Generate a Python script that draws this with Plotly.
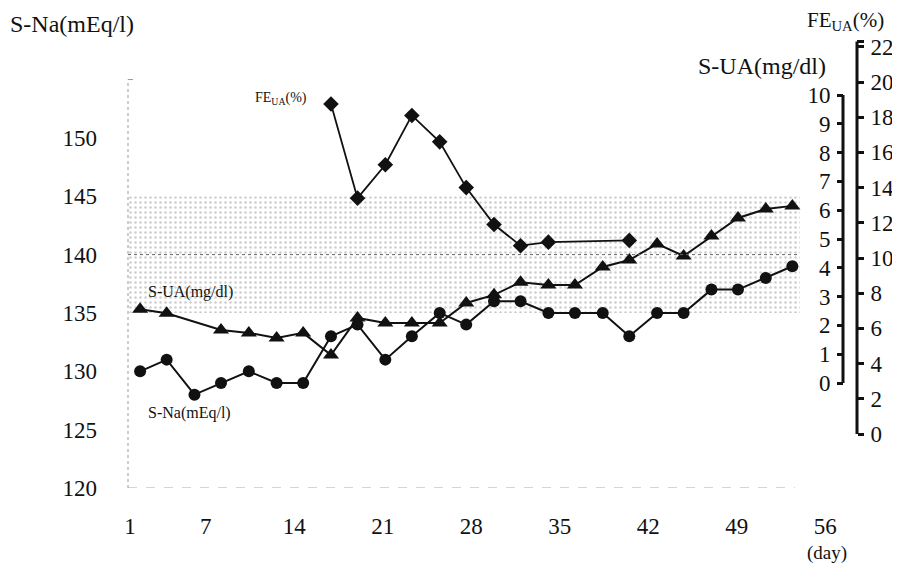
import plotly.graph_objects as go

# ---------------- data ----------------
days = [1.8, 3.9, 6.1, 8.2, 10.4, 12.6, 14.7, 16.9, 19.0, 21.2, 23.3, 25.5, 27.6,
        29.8, 31.9, 34.1, 36.2, 38.4, 40.5, 42.7, 44.8, 47.0, 49.1, 51.3, 53.4]

s_na = [130, 131, 128, 129, 130, 129, 129, 133, 134, 131, 133, 135, 134,
        136, 136, 135, 135, 135, 133, 135, 135, 137, 137, 138, 139]

ua_days = [1.8, 3.9, 8.2, 10.4, 12.6, 14.7, 16.9, 19.0, 21.2, 23.3, 25.5, 27.6,
           29.8, 31.9, 34.1, 36.2, 38.4, 40.5, 42.7, 44.8, 47.0, 49.1, 51.3, 53.4]
s_ua = [2.56, 2.42, 1.84, 1.74, 1.56, 1.74, 0.97, 2.26, 2.08, 2.08, 2.08, 2.78,
        3.06, 3.5, 3.4, 3.4, 4.03, 4.27, 4.83, 4.41, 5.1, 5.73, 6.04, 6.15]

fe_days = [16.9, 19.0, 21.2, 23.3, 25.5, 27.6, 29.8, 31.9, 34.1, 40.5]
fe_ua = [18.75, 13.4, 15.3, 18.1, 16.6, 14.0, 11.9, 10.7, 10.9, 11.0]

x_ticks = [1, 7, 14, 21, 28, 35, 42, 49, 56]
na_ticks = [120, 125, 130, 135, 140, 145, 150]
ua_ticks = list(range(0, 11))
fe_ticks = list(range(0, 23, 2))

na_normal_low, na_normal_mid, na_normal_high = 135, 140, 145
band_end_day = 54.0

# ---------------- layout geometry ----------------
# the page body has an 8px margin; targets below are in window pixels
OFF = 8
W, H = 900 - OFF, 571 - OFF
PLOT_L, PLOT_T, PLOT_B = 128, 30, 488      # window pixels of plot area
ML = PLOT_L - OFF
MT = PLOT_T - OFF
MB = 571 - PLOT_B
MR = 0
PW = W - ML - MR
PH = H - MT - MB


def px_x(px):
    return (px - PLOT_L) / PW


def px_y(py):
    return (PLOT_B - py) / PH


SERIF = "Liberation Serif, Times New Roman, serif"

fig = go.Figure()

x_lo = 1 + (PLOT_L - 130) / 12.64
x_hi = 1 + (836 - 130) / 12.64
x_dom_end = px_x(836)

# normal range band (stippled)
fig.add_trace(go.Scatter(
    x=[x_lo, band_end_day, band_end_day, x_lo, x_lo],
    y=[na_normal_low, na_normal_low, na_normal_high, na_normal_high, na_normal_low],
    mode="lines", line=dict(width=0), fill="toself",
    fillcolor="rgba(0,0,0,0)",
    fillpattern=dict(shape=".", size=5, solidity=0.2, fgcolor="#9a9a9a", bgcolor="white"),
    hoverinfo="skip", showlegend=False, yaxis="y"))

# S-Na
fig.add_trace(go.Scatter(
    x=days, y=s_na, mode="lines+markers", yaxis="y",
    line=dict(color="#111", width=2),
    marker=dict(symbol="circle", size=12, color="#111"),
    showlegend=False))

# S-UA
fig.add_trace(go.Scatter(
    x=ua_days, y=s_ua, mode="lines+markers", yaxis="y2",
    line=dict(color="#111", width=2),
    marker=dict(symbol="triangle-up", size=14, color="#111"),
    showlegend=False))

# FE-UA
fig.add_trace(go.Scatter(
    x=fe_days, y=fe_ua, mode="lines+markers", yaxis="y3",
    line=dict(color="#111", width=1.8),
    marker=dict(symbol="diamond", size=12, color="#111"),
    showlegend=False))

fig.update_layout(
    width=W, height=H,
    margin=dict(l=ML, r=MR, t=MT, b=MB, autoexpand=False),
    paper_bgcolor="white", plot_bgcolor="white",
    font=dict(family=SERIF, color="#111"),
    xaxis=dict(domain=[0, x_dom_end], range=[x_lo, x_hi],
               tickvals=x_ticks, ticktext=[str(t) for t in x_ticks],
               showgrid=False, zeroline=False, showline=False, ticks="",
               tickfont=dict(size=23, family=SERIF), ticklabelstandoff=22),
    yaxis=dict(range=[120, 120 + PH / 11.67], tickvals=na_ticks,
               showgrid=False, zeroline=False, showline=False, ticks="",
               tickfont=dict(size=23, family=SERIF), ticklabelstandoff=30),
    yaxis2=dict(overlaying="y", anchor="free", position=px_x(843), side="left",
                range=[-(PLOT_B - 383) / 28.8, (383 - PLOT_T) / 28.8], tickvals=ua_ticks,
                showgrid=False, zeroline=False, showline=False,
                ticks="outside", ticklen=6, tickwidth=2.5, tickcolor="#111",
                tickfont=dict(size=23, family=SERIF), ticklabelstandoff=2),
    yaxis3=dict(overlaying="y", anchor="free", position=px_x(857), side="right",
                range=[-(PLOT_B - 434) / 17.6, (434 - PLOT_T) / 17.6], tickvals=fe_ticks,
                showgrid=False, zeroline=False, showline=False,
                ticks="outside", ticklen=6, tickwidth=2.5, tickcolor="#111",
                tickfont=dict(size=23, family=SERIF), ticklabelstandoff=2),
)

shapes = []
# dotted line at 140
shapes.append(dict(type="line", xref="x", yref="y", x0=x_lo, x1=band_end_day,
                   y0=na_normal_mid, y1=na_normal_mid,
                   line=dict(color="#666", width=1, dash="dot")))
# faint left axis
shapes.append(dict(type="line", xref="paper", yref="y", x0=0, x1=0, y0=120, y1=155,
                   line=dict(color="#999", width=1, dash="dot")))
shapes.append(dict(type="line", xref="paper", yref="y", x0=0, x1=px_x(133), y0=155, y1=155,
                   line=dict(color="#999", width=1)))
# faint bottom axis
shapes.append(dict(type="line", xref="paper", yref="y", x0=0, x1=px_x(795), y0=120, y1=120,
                   line=dict(color="#aaa", width=1, dash="dash")))
# right axis lines
shapes.append(dict(type="line", xref="paper", yref="y2", x0=px_x(843), x1=px_x(843),
                   y0=0, y1=10, line=dict(color="#111", width=3)))
shapes.append(dict(type="line", xref="paper", yref="y3", x0=px_x(857), x1=px_x(857),
                   y0=0, y1=22.3, line=dict(color="#111", width=3)))
shapes.append(dict(type="line", xref="paper", yref="y3", x0=px_x(857), x1=px_x(864),
                   y0=22.3, y1=22.3, line=dict(color="#111", width=3)))
fig.update_layout(shapes=shapes)


def ann(text, px, py, size, anchor="left"):
    return dict(text=text, xref="paper", yref="paper", x=px_x(px), y=px_y(py),
                xanchor=anchor, yanchor="middle", showarrow=False,
                font=dict(size=size, family=SERIF, color="#111"))


fig.update_layout(annotations=[
    ann("S-Na(mEq/l)", 8, 24, 24),
    ann("FE<sub>UA</sub>(%)", 845, 21, 21, "center"),
    ann("S-UA(mg/dl)", 762, 66, 24, "center"),
    ann("(day)", 827, 553, 19, "center"),
    ann("FE<sub>UA</sub>(%)", 253, 98, 14),
    ann("S-UA(mg/dl)", 146, 292, 16),
    ann("S-Na(mEq/l)", 146, 413, 16),
])

fig.write_html("out.html")
